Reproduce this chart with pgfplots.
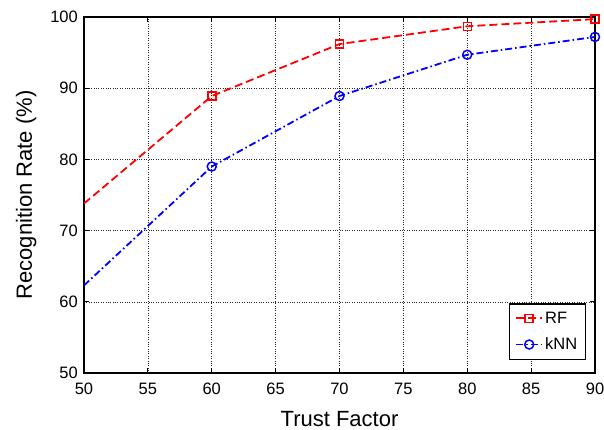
\documentclass[border=0pt]{standalone}
\usepackage{fontspec}
\setmainfont{Liberation Sans}
\usepackage{pgfplots}
\pgfplotsset{compat=1.18}
\begin{document}
\begin{tikzpicture}
\begin{axis}[
  scale only axis,
  width=511bp, height=356bp,
  xmin=50, xmax=90, ymin=50, ymax=100,
  xtick={50,55,...,90}, ytick={50,60,...,100},
  /pgf/number format/assume math mode=true,
  tick label style={font=\fontsize{16.5bp}{19bp}\selectfont, inner sep=0pt},
  xticklabel style={anchor=north, yshift=-10bp},
  yticklabel style={anchor=east, xshift=-6bp},
  label style={font=\fontsize{22bp}{26bp}\selectfont},
  xlabel={Trust Factor},
  ylabel={Recognition Rate (\%)},
  xlabel style={at={(rel axis cs:0.5,0)}, anchor=base, yshift=-53bp, inner sep=0pt},
  ylabel style={at={(rel axis cs:0,0.5)}, anchor=base, yshift=52bp, inner sep=0pt},
  axis line style={line width=1.2bp},
  tick style={line width=0.8bp, black},
  tick align=inside,
  major tick length=5bp,
  grid=major,
  major grid style={dotted, black!85, line width=0.6bp},
  legend style={at={(rel axis cs:0.982,0.037)}, anchor=south east, draw=black, line width=1.2bp,
    font=\fontsize{16.5bp}{19bp}\selectfont, inner xsep=6bp, inner ysep=6bp, row sep=9bp},
  legend cell align=left,
  legend image code/.code={\draw[#1, mark indices={2}] plot coordinates {(0bp,0bp) (13bp,0bp) (26bp,0bp)};},
]
\addplot[red, line width=1.8bp, dash pattern=on 8bp off 4bp, mark=square, mark size=4bp, mark indices={2,3,4,5}, mark options={solid, line width=1.5bp}]
  coordinates {(50,73.8) (60,88.9) (70,96.2) (80,98.7) (90,99.7)};
\addlegendentry{RF\hspace{6bp}}
\addplot[blue, line width=1.8bp, dash pattern=on 7bp off 3bp on 1.5bp off 3bp, mark=o, mark size=4.5bp, mark indices={2,3,4,5}, mark options={solid, line width=1.5bp}]
  coordinates {(50,62.3) (60,79.0) (70,88.9) (80,94.7) (90,97.2)};
\addlegendentry{kNN\hspace{6bp}}
\coordinate (sw) at (rel axis cs:0,0);
\end{axis}
\pgfresetboundingbox
\path (sw) ++(-84bp,-57bp) rectangle ++(604bp,430bp);
\end{tikzpicture}
\end{document}
